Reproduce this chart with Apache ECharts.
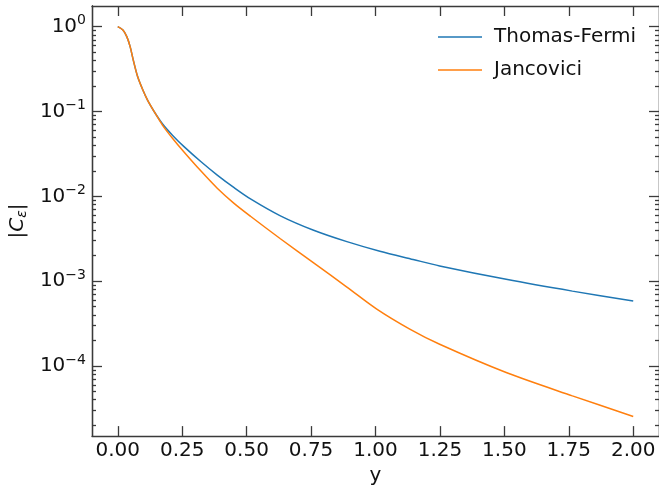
<!DOCTYPE html>
<html>
<head>
<meta charset="utf-8">
<script src="https://cdn.jsdelivr.net/npm/echarts@6/dist/echarts.min.js"></script>
<style>
html,body{margin:0;padding:0;background:#fff;}
#c{width:659px;height:491px;}
</style>
</head>
<body>
<div id="c"></div>
<script>
// ---- data ----
var seriesNames = ['Thomas-Fermi', 'Jancovici'];
var xThomasFermi = [0, 0.02, 0.035, 0.048, 0.06, 0.077, 0.097, 0.116, 0.141, 0.174, 0.213, 0.257, 0.322, 0.386, 0.45, 0.515, 0.631, 0.76, 0.889, 1.017, 1.146, 1.249, 1.507, 1.764, 2.0];
var yThomasFermi = [1.0, 0.912, 0.762, 0.582, 0.406, 0.258, 0.180, 0.135, 0.100, 0.0711, 0.0522, 0.0385, 0.0257, 0.0178, 0.01274, 0.00933, 0.00589, 0.00398, 0.00292, 0.00225, 0.0018, 0.00151, 0.00105, 0.000762, 0.000582];
var xJancovici = [0, 0.02, 0.035, 0.048, 0.06, 0.077, 0.097, 0.116, 0.141, 0.174, 0.213, 0.257, 0.322, 0.386, 0.45, 0.515, 0.631, 0.76, 0.889, 1.005, 1.133, 1.249, 1.507, 1.764, 2.0];
var yJancovici = [1.0, 0.912, 0.762, 0.582, 0.406, 0.258, 0.180, 0.135, 0.100, 0.0687, 0.0481, 0.0333, 0.01995, 0.01245, 0.00832, 0.00582, 0.00316, 0.00164, 0.000851, 0.000468, 0.000272, 0.00018, 0.0000836, 0.0000444, 0.0000254];
var xTicks = [0, 0.25, 0.5, 0.75, 1.0, 1.25, 1.5, 1.75, 2.0];
var yMajorTicks = [1e-4, 1e-3, 1e-2, 1e-1, 1];
var yMinorTicks = [2e-5,3e-5,4e-5,5e-5,6e-5,7e-5,8e-5,9e-5,
                   2e-4,3e-4,4e-4,5e-4,6e-4,7e-4,8e-4,9e-4,
                   2e-3,3e-3,4e-3,5e-3,6e-3,7e-3,8e-3,9e-3,
                   2e-2,3e-2,4e-2,5e-2,6e-2,7e-2,8e-2,9e-2,
                   2e-1,3e-1,4e-1,5e-1,6e-1,7e-1,8e-1,9e-1];
var xMin = -0.1, xMax = 2.1;
var yMin = 1.489e-5, yMax = 1.752;

function pairs(xs, ys){ return xs.map(function(x,i){ return [x, ys[i]]; }); }

var FONT = 'DejaVu Sans';
var AX = '#3a3a3a';
var TXT = '#111';

function yAxisBase(pos, ticks, len, labels){
  return {
    type: 'log', logBase: 10, min: yMin, max: yMax, position: pos,
    axisLine: {show: true, onZero: false, lineStyle: {color: AX, width: 1.3}},
    axisTick: {show: true, inside: true, length: len, customValues: ticks, lineStyle: {color: AX, width: 1.3}},
    axisLabel: labels ? {
      show: true, customValues: ticks, margin: 6,
      formatter: function(v){
        var e = Math.round(Math.log10(v));
        var s = e === 0 ? '0' : '\u2212' + (-e);
        return '{b|10}{s|' + s + '}';
      },
      rich: {
        b: {fontSize: 20, fontFamily: FONT, color: TXT},
        s: {fontSize: 14, fontFamily: FONT, color: TXT, padding: [0,0,12,0]}
      }
    } : {show: false},
    splitLine: {show: false},
    minorTick: {show: false},
    minorSplitLine: {show: false}
  };
}

var yLeft = yAxisBase('left', yMajorTicks, 10, true);
yLeft.name = '|{i|C}{s|\u03b5}|';
yLeft.nameLocation = 'middle';
yLeft.nameRotate = 90;
yLeft.nameGap = 61;
yLeft.nameTextStyle = {
  fontSize: 20, fontFamily: FONT, color: TXT,
  rich: {
    i: {fontSize: 20, fontFamily: FONT, fontStyle: 'italic', color: TXT},
    s: {fontSize: 14, fontFamily: FONT, fontStyle: 'italic', color: TXT, padding: [8,0,0,0]}
  }
};

function xAxisBase(pos, labels){
  return {
    type: 'value', min: xMin, max: xMax, position: pos,
    axisLine: {show: true, onZero: false, lineStyle: {color: AX, width: 1.3}},
    axisTick: {show: true, inside: true, length: 10, customValues: xTicks, lineStyle: {color: AX, width: 1.3}},
    axisLabel: labels ? {
      show: true, customValues: xTicks, margin: 5,
      fontSize: 20, fontFamily: FONT, color: TXT,
      formatter: function(v){ return v.toFixed(2); }
    } : {show: false},
    splitLine: {show: false}
  };
}
var xBottom = xAxisBase('bottom', true);
xBottom.name = 'y';
xBottom.nameLocation = 'middle';
xBottom.nameGap = 29;
xBottom.nameTextStyle = {fontSize: 20, fontFamily: FONT, color: TXT};

var chart = echarts.init(document.getElementById('c'), null, {renderer: 'canvas'});
chart.setOption({
  animation: false,
  backgroundColor: '#fff',
  grid: {left: 91, top: 6, width: 569, height: 431, containLabel: false},
  legend: {
    data: seriesNames, orient: 'vertical', left: 433, top: 22,
    icon: 'rect', itemWidth: 44, itemHeight: 1.6, itemGap: 13,
    textStyle: {fontSize: 20, fontFamily: FONT, color: TXT, padding: [0,0,0,7]}
  },
  xAxis: [xBottom, xAxisBase('top', false)],
  yAxis: [
    yLeft,
    yAxisBase('left', yMinorTicks, 4, false),
    yAxisBase('right', yMajorTicks, 10, false),
    yAxisBase('right', yMinorTicks, 4, false)
  ],
  series: [
    {name: seriesNames[0], type: 'line', xAxisIndex: 0, yAxisIndex: 0, data: pairs(xThomasFermi, yThomasFermi),
     showSymbol: false, symbol: 'none', smooth: 0.3, color: '#1f77b4', lineStyle: {width: 1.5, color: '#1f77b4'}},
    {name: seriesNames[1], type: 'line', xAxisIndex: 0, yAxisIndex: 0, data: pairs(xJancovici, yJancovici),
     showSymbol: false, symbol: 'none', smooth: 0.3, color: '#ff7f0e', lineStyle: {width: 1.5, color: '#ff7f0e'}}
  ]
});
</script>
</body>
</html>
